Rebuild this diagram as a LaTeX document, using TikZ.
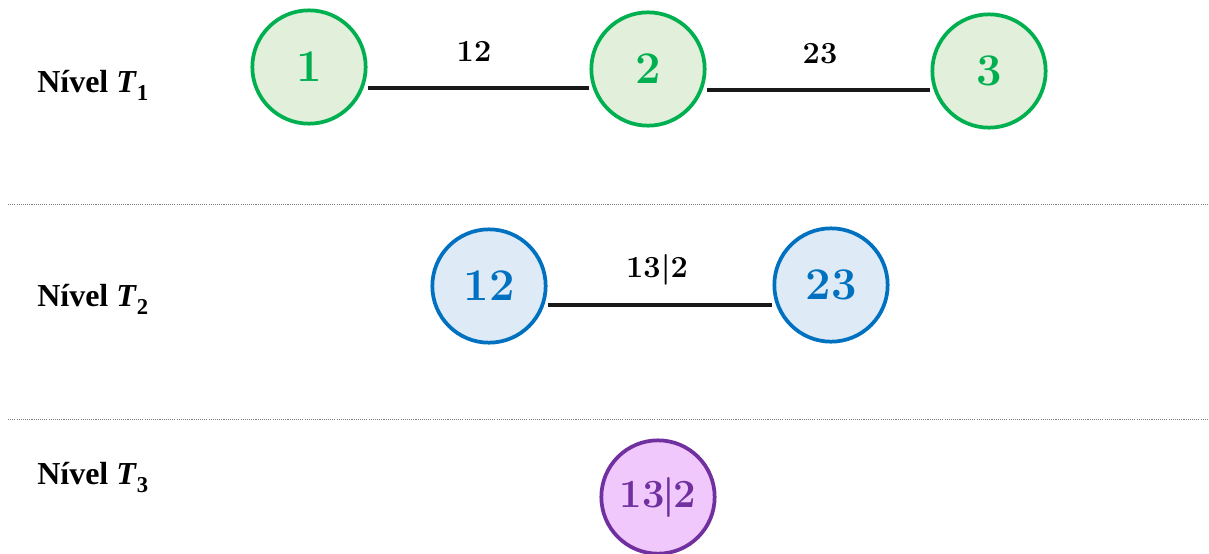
\documentclass[tikz,border=0pt]{standalone}
\usepackage{fontspec}
\newfontfamily\tnr{Liberation Serif}
\definecolor{gline}{HTML}{00B050}
\definecolor{gfill}{HTML}{E2EFDA}
\definecolor{bline}{HTML}{0070C0}
\definecolor{bfill}{HTML}{DEEBF7}
\definecolor{pline}{HTML}{7030A0}
\definecolor{pfill}{HTML}{F0C8FC}
\tikzset{
  vertex/.style={circle, draw=#1line, fill=#1fill, text=#1line, line width=2.8pt,
    minimum size=85pt, inner sep=0pt, font=\fontsize{34}{34}\selectfont\bfseries},
  link/.style={line width=3.2pt, black!90},
  linklabel/.style={anchor=base, inner sep=0pt, font=\fontsize{23}{23}\selectfont\bfseries},
  level/.style={anchor=base west, inner sep=0pt, font=\tnr\fontsize{24}{28}\selectfont\bfseries},
  divider/.style={gray, line width=0.6pt, dash pattern=on 0.8pt off 0.8pt}
}
\newcommand{\lvl}[1]{N\'{\i}vel \textit{T}\raisebox{-0.28em}{\fontsize{17}{17}\selectfont #1}}
\begin{document}
\begin{tikzpicture}[x=0.75pt,y=-0.75pt]
\useasboundingbox (0,0) rectangle (1209,553);

% level T1
\node[level] (l1) at (37,92) {\lvl{1}};
\node[vertex=g] (n1) at (309,67) {1};
\node[vertex=g] (n2) at (648,69) {2};
\node[vertex=g] (n3) at (989,71) {3};
\draw[link] (n1.east |- 0,88) -- (n2.west |- 0,88);
\draw[link] (n2.east |- 0,90) -- (n3.west |- 0,90);
\node[linklabel] (e12) at (474,61) {12};
\node[linklabel] (e23) at (820,63) {23};

% separators
\coordinate (d1a) at (8,204);
\coordinate (d1b) at (1209,204);
\coordinate (d2a) at (8,419);
\coordinate (d2b) at (1209,419);
\draw[divider] (d1a) -- (d1b);
\draw[divider] (d2a) -- (d2b);

% level T2
\node[level] (l2) at (37,306) {\lvl{2}};
\node[vertex=b] (m12) at (489,286) {12};
\node[vertex=b] (m23) at (831,285) {23};
\draw[link] (m12.east |- 0,305) -- (m23.west |- 0,305);
\node[linklabel] (e132) at (657,277) {13|2};

% level T3
\node[level] (l3) at (37,484) {\lvl{3}};
\node[vertex=p, font=\fontsize{30}{30}\selectfont\bfseries] (k132) at (658,497)
  {13\kern-1.5pt|\kern-1.5pt2};
\end{tikzpicture}
\end{document}
